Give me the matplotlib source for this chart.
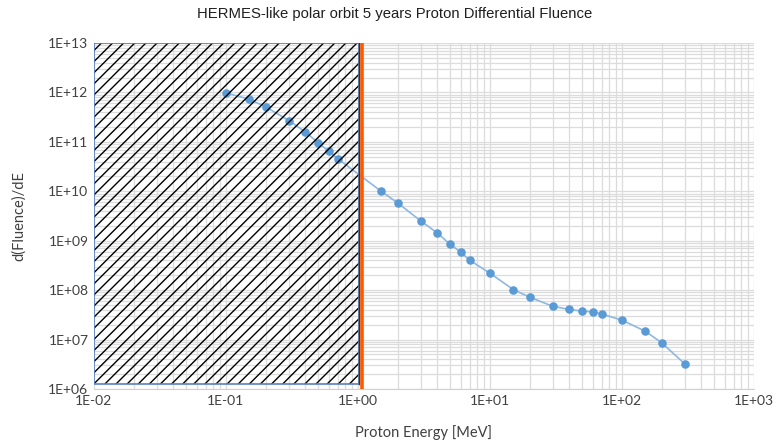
import matplotlib.pyplot as plt
from matplotlib.patches import Rectangle
from matplotlib.ticker import LogLocator, FixedLocator, NullFormatter


# proton differential fluence, 5 years
energy_mev = [0.1, 0.15, 0.2, 0.3, 0.4, 0.5, 0.6, 0.7,
              1.5, 2.0, 3.0, 4.0, 5.0, 6.0, 7.0, 10.0, 15.0, 20.0,
              30.0, 40.0, 50.0, 60.0, 70.0, 100.0, 150.0, 200.0, 300.0]
fluence = [9.8e11, 7.3e11, 5.1e11, 2.7e11, 1.58e11, 9.6e10, 6.5e10, 4.6e10,
           1.0e10, 5.8e9, 2.5e9, 1.43e9, 8.4e8, 5.9e8, 4.05e8, 2.2e8, 1.03e8, 7.2e7,
           4.7e7, 4.06e7, 3.76e7, 3.64e7, 3.3e7, 2.47e7, 1.48e7, 8.6e6, 3.2e6]

# excluded low energy band and its cut
cut_band = (0.01, 1.02, 1.26e6, 1e13)
cut_energy = 1.08

x_ticks = [1e-2, 1e-1, 1e0, 1e1, 1e2, 1e3]
x_tick_labels = ["1E-02", "1E-01", "1E+00", "1E+01", "1E+02", "1E+03"]
y_ticks = [1e6, 1e7, 1e8, 1e9, 1e10, 1e11, 1e12, 1e13]
y_tick_labels = ["1E+06", "1E+07", "1E+08", "1E+09", "1E+10", "1E+11", "1E+12", "1E+13"]

LABEL_FONT = ["Lato", "DejaVu Sans"]
TITLE_FONT = ["Liberation Sans Narrow", "Liberation Sans", "DejaVu Sans"]

fig = plt.figure(figsize=(7.76, 4.42), dpi=100)
ax = fig.add_axes([0.1211, 0.1199, 0.8505, 0.7828])
ax.set_xscale("log")
ax.set_yscale("log")
ax.set_xlim(1e-2, 1e3)
ax.set_ylim(1e6, 1e13)

# grid
grid_kw = dict(color="#dcdcdc", linewidth=0.9)
ax.xaxis.set_minor_locator(LogLocator(base=10, subs=range(2, 10)))
ax.yaxis.set_minor_locator(LogLocator(base=10, subs=range(2, 10), numticks=20))
ax.xaxis.set_minor_formatter(NullFormatter())
ax.yaxis.set_minor_formatter(NullFormatter())
ax.grid(True, which="both", **grid_kw)
ax.set_axisbelow(True)

ax.xaxis.set_major_locator(FixedLocator(x_ticks))
ax.yaxis.set_major_locator(FixedLocator(y_ticks))
ax.set_xticklabels(x_tick_labels, family=LABEL_FONT, fontsize=10, color="#404040")
ax.set_yticklabels(y_tick_labels, family=LABEL_FONT, fontsize=10, color="#404040")
ax.tick_params(which="both", length=0, pad=4)

for side in ("top", "right", "left"):
    ax.spines[side].set_visible(False)
ax.spines["bottom"].set_color("#d0d0d0")

# data
ax.plot(energy_mev, fluence, color="#8db8e2", linewidth=1.2, zorder=3)
ax.scatter(energy_mev, fluence, s=38, color="#5b9bd5", zorder=4, linewidths=0)

# hatched region below the cut
plt.rcParams["hatch.linewidth"] = 1.0
x0, x1, y0, y1 = cut_band
ax.add_patch(Rectangle((x0, y0), x1 - x0, y1 - y0, fill=False, hatch="///",
                       edgecolor="black", linewidth=0, zorder=5))
ax.add_patch(Rectangle((x0, y0), x1 - x0, y1 - y0, fill=False,
                       edgecolor="#5a7fbf", linewidth=1.2, zorder=6))
ax.plot([x1, x1], [y0, y1], color="#333333", linewidth=1.0, zorder=6)
ax.axvline(cut_energy, color="#ff5a00", linewidth=2.6, zorder=7)

fig.text(0.509, 0.968, "HERMES-like polar orbit 5 years Proton Differential Fluence",
         family=TITLE_FONT, fontsize=10.7, color="#202020", ha="center", va="center")
ax.set_xlabel("Proton Energy [MeV]", family=LABEL_FONT, fontsize=10.5,
              color="#404040", labelpad=13)
ax.set_ylabel("d(Fluence)/dE", family=LABEL_FONT, fontsize=10.5,
              color="#404040", labelpad=16)

fig.savefig("out.png", dpi=100)
